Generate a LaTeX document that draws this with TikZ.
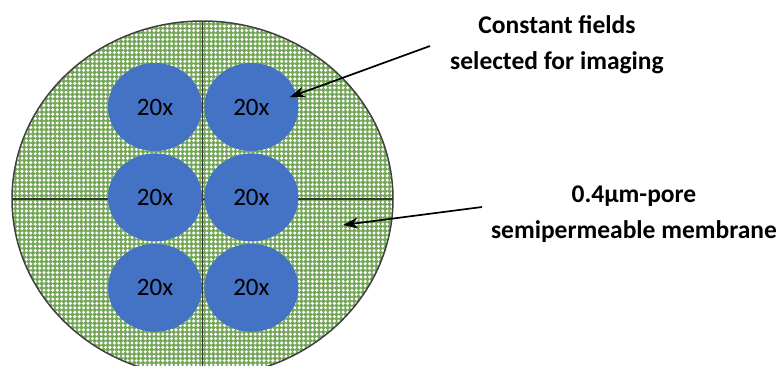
\documentclass[tikz,border=0pt]{standalone}
\usepackage{fontspec}
\setmainfont{Carlito}
\usetikzlibrary{arrows.meta, positioning, shapes.geometric, patterns.meta}

\definecolor{fieldblue}{RGB}{68,114,196}
\definecolor{meshgreen}{RGB}{116,166,88}

% small white diamonds on a green ground
\tikzdeclarepattern{
  name=meshdots,
  type=uncolored,
  bounding box={(-2.2pt,-2.2pt) and (2.2pt,2.2pt)},
  tile size={(4.4pt,4.4pt)},
  code={
    \fill (-1.7pt,0pt) -- (0pt,1.7pt) -- (1.7pt,0pt) -- (0pt,-1.7pt) -- cycle;
  }
}

\begin{document}
\begin{tikzpicture}[
    x=1pt, y=-1pt,
    node distance=2pt,
    field/.style={ellipse, fill=fieldblue, minimum width=94pt, minimum height=88pt,
      inner sep=0pt, font=\fontsize{25}{29}\selectfont},
    callout/.style={align=center, font=\bfseries\fontsize{25.5}{36}\selectfont},
    pointer/.style={-{Stealth[length=15pt, width=11pt]}, line width=1.7pt}
  ]
    \useasboundingbox (0,0) rectangle (782,365);

    % membrane, cut into quarters
    \begin{scope}
      \clip (0,0) rectangle (782,365);
      \fill[meshgreen] (202.5,199) ellipse [x radius=190.5, y radius=178];
      \fill[pattern=meshdots, pattern color=white] (202.5,199) ellipse [x radius=190.5, y radius=178];
      \draw[line width=1.1pt, black!80] (202.5,21) -- (202.5,377);
      \draw[line width=1.1pt, black!80] (12,199) -- (393,199);
      \draw[line width=1.5pt, black!75] (202.5,199) ellipse [x radius=190.5, y radius=178];
    \end{scope}

    % imaging fields
    \node[field] (F1) at (155,107) {20x};
    \node[field, right=of F1] (F2) {20x};
    \node[field, below=of F1] (F3) {20x};
    \node[field, right=of F3] (F4) {20x};
    \node[field, below=of F3] (F5) {20x};
    \node[field, right=of F5] (F6) {20x};

    \node[callout] (fieldslabel) at (557,45) {Constant fields\\selected for imaging};
    \node[callout] (membranelabel) at (634,214) {0.4µm-pore\\semipermeable membrane};

    \coordinate (fieldstail) at (430,46);
    \coordinate (fieldshead) at (290,97);
    \coordinate (membranetail) at (482,207);
    \coordinate (membranehead) at (343,225);

    \draw[pointer] (fieldstail) -- (fieldshead);
    \draw[pointer] (membranetail) -- (membranehead);
  \end{tikzpicture}
\end{document}
